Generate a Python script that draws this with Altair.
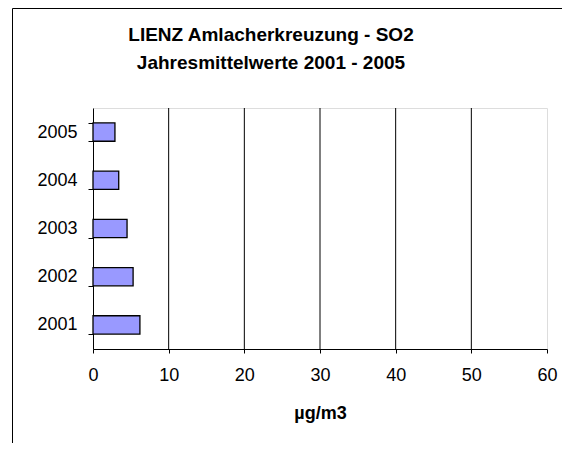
import altair as alt
import pandas as pd

years = ["2001", "2002", "2003", "2004", "2005"]
values = [6.2, 5.3, 4.5, 3.4, 2.9]
grid_values = [10, 20, 30, 40, 50]
x_ticks = [0, 10, 20, 30, 40, 50, 60]
title_lines = ["LIENZ Amlacherkreuzung - SO2", "Jahresmittelwerte 2001 - 2005"]
x_title = "µg/m3"

FONT = "Liberation Sans"

df = pd.DataFrame({"year": years, "value": values})
grid_df = pd.DataFrame({"g": grid_values})
one = pd.DataFrame({"a": [0]})

x_scale = alt.Scale(domain=[0, 60], nice=False)
x_axis = alt.Axis(
    values=x_ticks,
    grid=False,
    labelFlush=False,
    labelFontSize=18,
    labelFont=FONT,
    labelColor="black",
    labelPadding=13,
    tickSize=4,
    tickColor="black",
    domainColor="black",
    titleFont=FONT,
    titleFontSize=18,
    titleFontWeight="bold",
    titleColor="black",
    titlePadding=20,
)

grid = alt.Chart(grid_df).mark_rule(color="black", strokeWidth=1).encode(
    x=alt.X("g:Q", scale=x_scale, title=x_title, axis=x_axis)
)

bars = alt.Chart(df).mark_bar(color="#9999FF", stroke="black", strokeWidth=1.3).encode(
    x=alt.X("value:Q", scale=x_scale, title=x_title, axis=x_axis),
    y=alt.Y(
        "year:N",
        sort="descending",
        scale=alt.Scale(paddingInner=0.62, paddingOuter=0.31),
        axis=alt.Axis(
            title=None,
            tickBand="extent",
            labelFontSize=18,
            labelFont=FONT,
            labelColor="black",
            labelPadding=11,
            tickSize=5,
            tickColor="black",
            domainColor="black",
        ),
    ),
)

frame_left = alt.Chart(one).mark_rule(color="black", strokeWidth=1).encode(
    x=alt.value(-80.5), y=alt.value(-99.5), y2=alt.value(343)
)
frame_top = alt.Chart(one).mark_rule(color="black", strokeWidth=1).encode(
    x=alt.value(-80.5), x2=alt.value(477), y=alt.value(-99.5)
)

title1 = alt.Chart(one).mark_text(
    font=FONT, fontSize=19, fontWeight="bold", color="black", baseline="alphabetic", align="center"
).encode(x=alt.value(178), y=alt.value(-67), text=alt.value(title_lines[0]))
title2 = alt.Chart(one).mark_text(
    font=FONT, fontSize=19, fontWeight="bold", color="black", baseline="alphabetic", align="center"
).encode(x=alt.value(178), y=alt.value(-39), text=alt.value(title_lines[1]))

chart = (
    alt.layer(grid, bars, frame_left, frame_top, title1, title2)
    .properties(
        width=454,
        height=241,
        autosize=alt.AutoSizeParams(type="none"),
        padding={"left": 85, "top": 100, "right": 15, "bottom": 94},
    )
    .configure_view(stroke="#808080", strokeWidth=1.5)
    .configure(background="white")
)

chart.save("out.html", embed_options={"renderer": "svg", "actions": False})
